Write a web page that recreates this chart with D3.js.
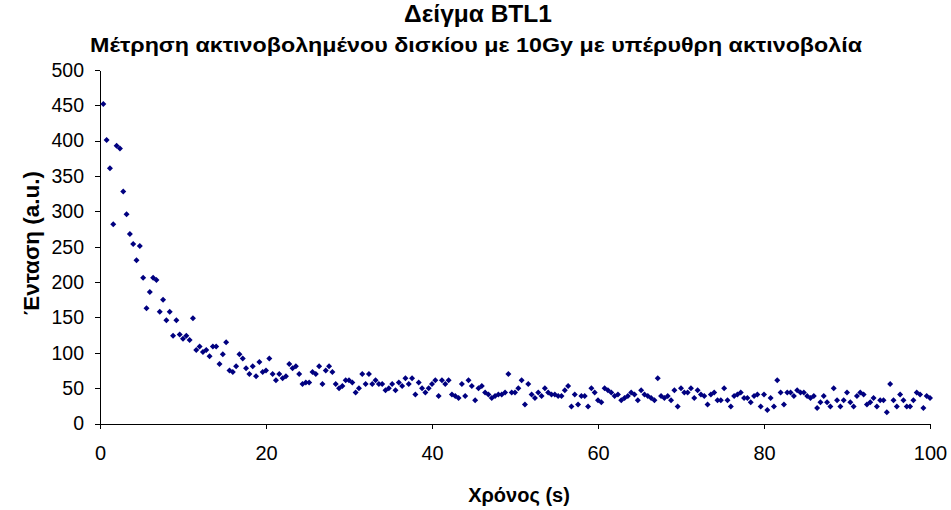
<!DOCTYPE html>
<html>
<head>
<meta charset="utf-8">
<script src="https://cdn.jsdelivr.net/npm/d3@7/dist/d3.min.js"></script>
<style>
  html, body { margin: 0; padding: 0; background: #fff; }
  svg { display: block; font-family: "Liberation Sans", Arial, sans-serif; }
</style>
</head>
<body>
<svg id="chart" width="951" height="510"></svg>
<script>
// ---- Data ----
const chartTitle = "Δείγμα BTL1";
const chartSubtitle = "Μέτρηση ακτινοβολημένου δισκίου με 10Gy με υπέρυθρη ακτινοβολία";
const xAxisTitle = "Χρόνος (s)";
const yAxisTitle = "Ένταση (a.u.)";
const xTicks = [0, 20, 40, 60, 80, 100];
const yTicks = [0, 50, 100, 150, 200, 250, 300, 350, 400, 450, 500];
const sampleInterval = 0.4; // seconds between readings
const intensity = [
  452,401,361,282,393,389,328,296,268,254,
  231,251,206,163,186,206,203,158,175,146,
  158,124,146,126,120,124,118,149,104,109,
  101,104,95,109,109,84,98,115,75,73,
  81,98,92,78,70,81,67,87,73,75,
  92,70,61,70,64,67,84,78,81,70,
  56,58,58,73,70,81,56,75,81,73,
  56,50,53,61,61,58,44,50,70,56,
  70,56,61,56,56,47,50,56,47,58,
  53,64,56,64,41,58,50,44,50,56,
  61,39,61,56,61,41,39,36,56,39,
  61,53,33,50,53,44,41,36,39,41,
  41,44,70,44,44,50,61,27,56,41,
  36,44,39,50,44,41,41,39,39,47,
  53,24,41,27,39,39,24,50,44,33,
  30,50,47,44,39,41,33,36,39,44,
  41,33,47,41,39,36,33,64,39,36,
  39,33,47,24,50,44,44,50,36,47,
  41,39,27,41,44,33,33,50,33,24,
  39,41,44,36,36,30,39,41,24,41,
  19,36,24,61,44,27,44,44,39,47,
  44,44,39,36,39,22,30,39,30,24,
  50,33,24,33,44,30,24,39,44,41,
  27,30,36,24,33,33,16,56,33,24,
  41,33,24,24,33,44,41,22,39,36
];
const times = intensity.map((_, i) => +((i + 1) * sampleInterval).toFixed(1));
const points = intensity.map((v, i) => ({ t: times[i], v }));

// ---- Layout ----
const plot = { left: 100, right: 930, top: 70, bottom: 423.5 };
const svg = d3.select("#chart");

const x = d3.scaleLinear().domain([0, 100]).range([plot.left, plot.right]);
const y = d3.scaleLinear().domain([0, 500]).range([plot.bottom, plot.top]);

// Axes
const yAxis = d3.axisLeft(y).tickValues(yTicks).tickSize(5).tickSizeOuter(0).tickPadding(11);
const gy = svg.append("g").attr("transform", `translate(${plot.left},0)`).call(yAxis);
const xAxis = d3.axisBottom(x).tickValues(xTicks).tickSize(5).tickSizeOuter(0).tickPadding(17);
const gx = svg.append("g").attr("transform", `translate(0,${plot.bottom})`).call(xAxis);

[gx, gy].forEach(g => {
  g.selectAll("path.domain").attr("stroke", "#000").attr("shape-rendering", "crispEdges");
  g.selectAll(".tick line").attr("stroke", "#000").attr("shape-rendering", "crispEdges");
  g.selectAll(".tick text")
    .attr("fill", "#000")
    .style("font-family", '"Liberation Sans", Arial, sans-serif');
});
gy.selectAll(".tick text").style("font-size", "19.5px");
gx.selectAll(".tick text").style("font-size", "20px");

// Points (diamond markers)
const diamond = d3.symbol().type(d3.symbolSquare).size(18);
svg.append("g").selectAll("path.pt")
  .data(points)
  .join("path")
  .attr("class", "pt")
  .attr("d", diamond)
  .attr("transform", d => `translate(${x(d.t)},${y(d.v)}) rotate(45)`)
  .attr("fill", "#000080");

// Titles
svg.append("text")
  .attr("x", 478).attr("y", 22)
  .attr("text-anchor", "middle")
  .style("font-size", "24.5px").style("font-weight", "bold")
  .text(chartTitle);

svg.append("text")
  .attr("x", 476).attr("y", 52)
  .attr("text-anchor", "middle")
  .attr("textLength", 772).attr("lengthAdjust", "spacingAndGlyphs")
  .style("font-size", "20px").style("font-weight", "bold")
  .text(chartSubtitle);

svg.append("text")
  .attr("x", 519).attr("y", 502)
  .attr("text-anchor", "middle")
  .style("font-size", "20px").style("font-weight", "bold")
  .text(xAxisTitle);

svg.append("text")
  .attr("transform", `translate(39,243) rotate(-90)`)
  .attr("text-anchor", "middle")
  .style("font-size", "22.5px").style("font-weight", "bold")
  .text(yAxisTitle);
</script>
</body>
</html>
